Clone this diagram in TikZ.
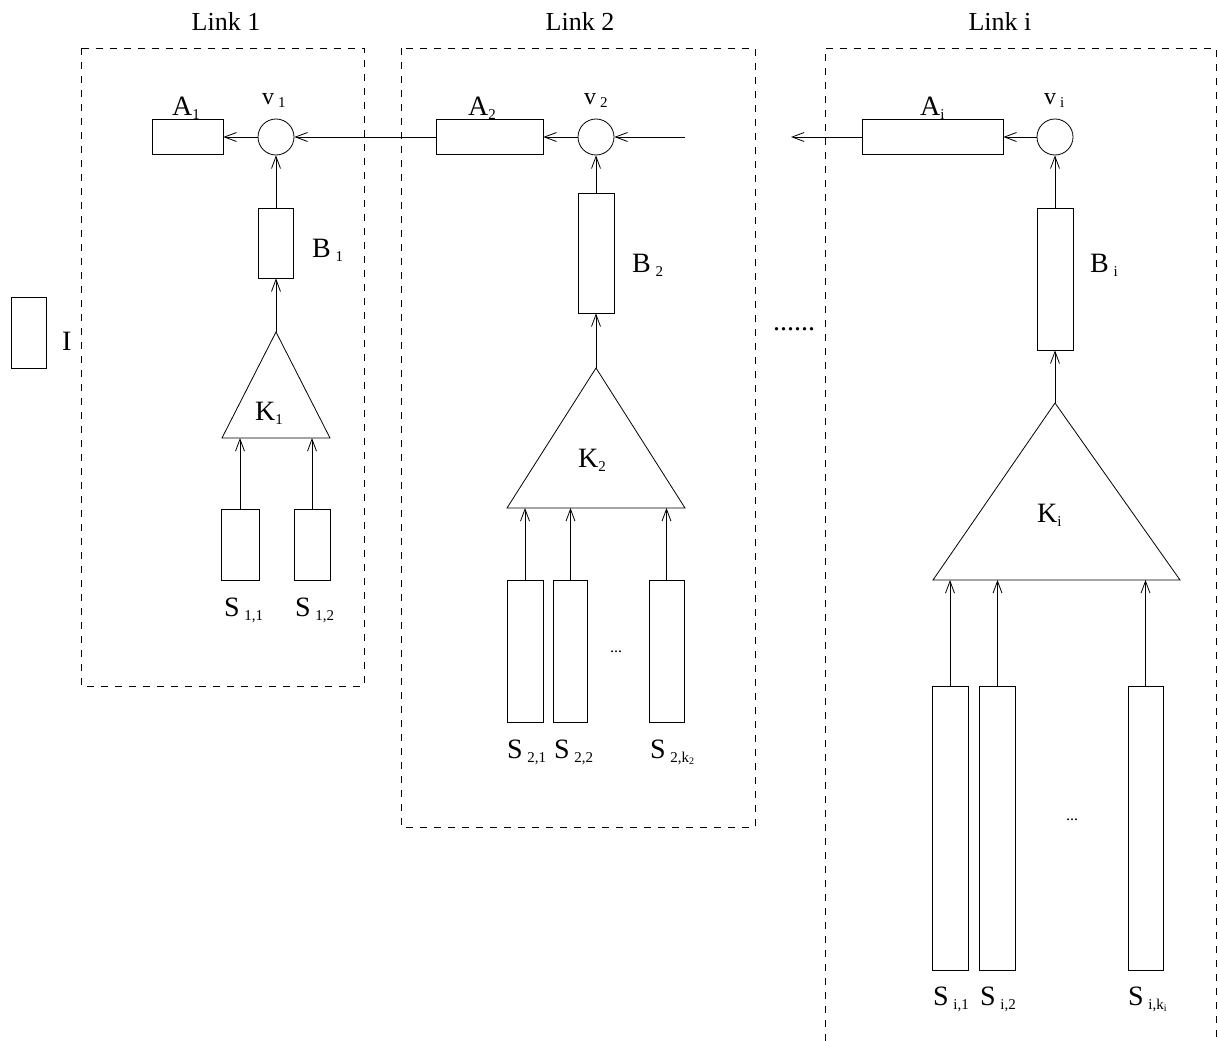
\documentclass[tikz,border=0pt]{standalone}
\usepackage{fontspec}
\setmainfont{Liberation Serif}
\usetikzlibrary{arrows.meta}
\newcommand{\lsub}[1]{\raisebox{-0.35ex}{\fontsize{15}{15}\selectfont #1}}
\newcommand{\ssub}[1]{\raisebox{-0.3ex}{\fontsize{10}{10}\selectfont #1}}
\tikzset{
  blk/.style={draw, line width=0.8pt, inner sep=0pt},
  sum/.style={draw, circle, line width=0.8pt, inner sep=0pt, minimum size=36pt},
  linkbox/.style={draw, line width=0.8pt, dash pattern=on 7pt off 7pt},
  arr/.style={-{Straight Barb[length=12pt,width=9pt]}, line width=0.8pt},
  lbl/.style={anchor=base west, inner sep=0pt, font=\fontsize{28}{28}\selectfont},
  vlbl/.style={anchor=base west, inner sep=0pt, font=\fontsize{24}{24}\selectfont},
  ttl/.style={anchor=base, inner sep=0pt, font=\fontsize{26}{26}\selectfont},
  dots/.style={anchor=base, inner sep=0pt, font=\fontsize{16}{16}\selectfont},
  bigdots/.style={anchor=base, inner sep=0pt, font=\fontsize{28}{28}\selectfont}
}
\begin{document}
\begin{tikzpicture}[x=1pt,y=-1pt]
\useasboundingbox (0,0) rectangle (1218,1041);

% link frames
\draw[linkbox] (81,48) rectangle (364,686);
\draw[linkbox] (401,48) rectangle (755,827);
\draw[linkbox] (825,1041) -- (825,48) -- (1216,48) -- (1216,1041);
\node[ttl] (t1) at (226,31) {Link 1};
\node[ttl] (t2) at (580,31) {Link 2};
\node[ttl] (ti) at (1000,31) {Link i};

% I
\node[blk, minimum width=35pt, minimum height=71pt] (I) at (28.5,332.5) {};
\node[lbl] (Ilab) at (62,350) {I};

% ---------- Link 1
\node[blk, minimum width=71pt, minimum height=35pt] (A1) at (187.5,137) {};
\node[sum] (v1) at (276,137) {};
\node[blk, minimum width=35pt, minimum height=70pt] (B1) at (276,243) {};
\coordinate (K1t) at (276,332);
\coordinate (K1l) at (222,438);
\coordinate (K1r) at (330,438);
\draw[line width=0.8pt] (K1t) -- (K1l) -- (K1r) -- cycle;
\node[blk, minimum width=38pt, minimum height=71pt] (S11) at (240,544.5) {};
\node[blk, minimum width=36pt, minimum height=71pt] (S12) at (312,544.5) {};

\node[lbl] (A1lab) at (172,115) {A\lsub{1}};
\node[vlbl] (v1lab) at (262,104) {v\,\lsub{1}};
\node[lbl] (B1lab) at (312,257) {B\,\lsub{1}};
\node[lbl] (K1lab) at (255,420) {K\lsub{1}};
\node[lbl] (S11lab) at (224,616) {S\,\lsub{1,1}};
\node[lbl] (S12lab) at (295,616) {S\,\lsub{1,2}};

\draw[arr] (v1.west) -- (A1.east);
\draw[arr] (B1.north) -- (v1.south);
\draw[arr] (K1t) -- (B1.south);
\draw[arr] (S11.north) -- (S11.north |- K1l);
\draw[arr] (S12.north) -- (S12.north |- K1l);

% ---------- Link 2
\node[blk, minimum width=107pt, minimum height=35pt] (A2) at (489.5,137) {};
\node[sum] (v2) at (596,137) {};
\coordinate (in2) at (685,137);
\node[blk, minimum width=36pt, minimum height=120pt] (B2) at (596,253) {};
\coordinate (K2t) at (596,368);
\coordinate (K2l) at (507,508);
\coordinate (K2r) at (685,508);
\draw[line width=0.8pt] (K2t) -- (K2l) -- (K2r) -- cycle;
\node[blk, minimum width=36pt, minimum height=142pt] (S21) at (525,651) {};
\node[blk, minimum width=34pt, minimum height=142pt] (S22) at (570.5,651) {};
\node[blk, minimum width=35pt, minimum height=142pt] (S2k) at (666.5,651) {};
\node[dots] (d2) at (616,652) {...};

\node[lbl] (A2lab) at (468,115) {A\lsub{2}};
\node[vlbl] (v2lab) at (584,104) {v\,\lsub{2}};
\node[lbl] (B2lab) at (632,272) {B\,\lsub{2}};
\node[lbl] (K2lab) at (578,467) {K\lsub{2}};
\node[lbl] (S21lab) at (507,758) {S\,\lsub{2,1}};
\node[lbl] (S22lab) at (554,758) {S\,\lsub{2,2}};
\node[lbl] (S2klab) at (650,758) {S\,\lsub{2,k\ssub{2}}};

\draw[arr] (A2.west) -- (v1.east);
\draw[arr] (v2.west) -- (A2.east);
\draw[arr] (in2) -- (v2.east);
\draw[arr] (B2.north) -- (v2.south);
\draw[arr] (K2t) -- (B2.south);
\draw[arr] (S21.north) -- (S21.north |- K2l);
\draw[arr] (S22.north) -- (S22.north |- K2l);
\draw[arr] (S2k.north) -- (S2k.north |- K2l);

% gap dots
\node[bigdots] (gap) at (794,330) {......};

% ---------- Link i
\coordinate (outi) at (791,137);
\node[blk, minimum width=141pt, minimum height=35pt] (Ai) at (932.5,137) {};
\node[sum] (vi) at (1055,137) {};
\node[blk, minimum width=36pt, minimum height=142pt] (Bi) at (1055,279) {};
\coordinate (Kit) at (1055,403);
\coordinate (Kil) at (933,580);
\coordinate (Kir) at (1180,580);
\draw[line width=0.8pt] (Kit) -- (Kil) -- (Kir) -- cycle;
\node[blk, minimum width=36pt, minimum height=284pt] (Si1) at (950,828) {};
\node[blk, minimum width=36pt, minimum height=284pt] (Si2) at (997.5,828) {};
\node[blk, minimum width=35pt, minimum height=284pt] (Sik) at (1145.5,828) {};
\node[dots] (di) at (1072,820) {...};

\node[lbl] (Ailab) at (920,115) {A\lsub{i}};
\node[vlbl] (vilab) at (1044,104) {v\,\lsub{i}};
\node[lbl] (Bilab) at (1090,272) {B\,\lsub{i}};
\node[lbl] (Kilab) at (1037,522) {K\lsub{i}};
\node[lbl] (Si1lab) at (933,1005) {S\,\lsub{i,1}};
\node[lbl] (Si2lab) at (980,1005) {S\,\lsub{i,2}};
\node[lbl] (Siklab) at (1128,1005) {S\,\lsub{i,k\ssub{i}}};

\draw[arr] (Ai.west) -- (outi);
\draw[arr] (vi.west) -- (Ai.east);
\draw[arr] (Bi.north) -- (vi.south);
\draw[arr] (Kit) -- (Bi.south);
\draw[arr] (Si1.north) -- (Si1.north |- Kil);
\draw[arr] (Si2.north) -- (Si2.north |- Kil);
\draw[arr] (Sik.north) -- (Sik.north |- Kil);
\end{tikzpicture}
\end{document}
